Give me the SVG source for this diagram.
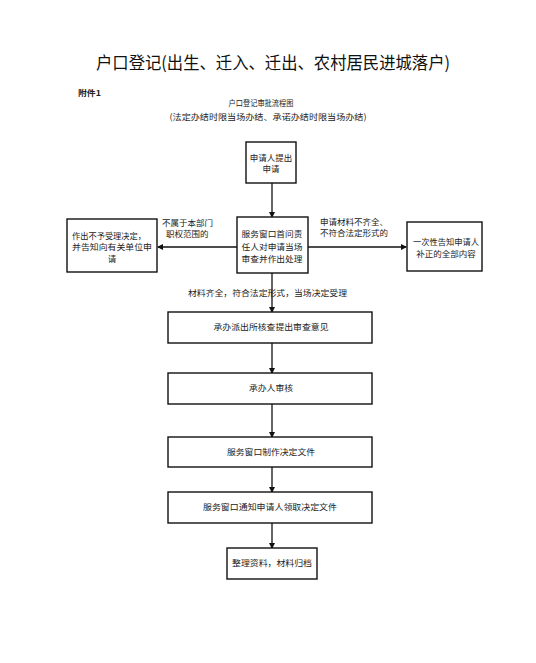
<svg xmlns="http://www.w3.org/2000/svg" width="536" height="663" viewBox="0 0 536 663">
<defs>
<marker id="ah" markerWidth="6" markerHeight="6" refX="5" refY="3" orient="auto" markerUnits="userSpaceOnUse">
<path d="M0,0 L6,3 L0,6 Z" fill="#111"/>
</marker>
<style>
text{font-family:"Noto Sans CJK SC","Noto Sans CJK TC",sans-serif;fill:#222;}
.t{font-size:8.5px;}
.c{text-anchor:middle;}
.box{fill:#fff;stroke:#111;stroke-width:1.4;}
.ln{stroke:#111;stroke-width:1.3;fill:none;marker-end:url(#ah);}
</style>
</defs>
<rect width="536" height="663" fill="#fff"/>
<text x="273" y="69" class="c" style="font-size:17px;fill:#111" textLength="354" lengthAdjust="spacingAndGlyphs">户口登记(出生、迁入、迁出、农村居民进城落户)</text>
<text x="78" y="96" style="font-size:8px;font-weight:bold" textLength="23" lengthAdjust="spacingAndGlyphs">附件1</text>
<text x="261" y="106" class="t c" textLength="65" lengthAdjust="spacingAndGlyphs">户口登记审批流程图</text>
<text x="268" y="120" class="t c" textLength="197" lengthAdjust="spacingAndGlyphs">(法定办结时限当场办结、承诺办结时限当场办结)</text>

<g id="connectors">
<line class="ln" x1="272" y1="183" x2="272" y2="217"/>
<line class="ln" x1="237" y1="247" x2="158" y2="247"/>
<line class="ln" x1="308" y1="247" x2="406" y2="247"/>
<line class="ln" x1="272" y1="273" x2="272" y2="312"/>
<line class="ln" x1="272" y1="343" x2="272" y2="373"/>
<line class="ln" x1="272" y1="404" x2="272" y2="437"/>
<line class="ln" x1="272" y1="467" x2="272" y2="492"/>
<line class="ln" x1="272" y1="523" x2="272" y2="548"/>
<text x="162" y="226" class="t">不属于本部门</text>
<text x="166" y="237" class="t">职权范围的</text>
<text x="320" y="225" class="t">申请材料不齐全、</text>
<text x="320" y="236" class="t">不符合法定形式的</text>
<text x="188" y="296" class="t" textLength="159" lengthAdjust="spacingAndGlyphs">材料齐全，符合法定形式，当场决定受理</text>
</g>

<g id="n-apply">
<rect class="box" x="246" y="142" width="50" height="41"/>
<text x="271" y="161" class="t c">申请人提出</text>
<text x="271" y="172" class="t c">申请</text>
</g>
<g id="n-review">
<rect class="box" x="237" y="217" width="71" height="56"/>
<text x="272" y="237" class="t c" textLength="61" lengthAdjust="spacingAndGlyphs">服务窗口首问责</text>
<text x="272" y="250" class="t c" textLength="61" lengthAdjust="spacingAndGlyphs">任人对申请当场</text>
<text x="272" y="262" class="t c" textLength="61" lengthAdjust="spacingAndGlyphs">审查并作出处理</text>
</g>
<g id="n-reject">
<rect class="box" x="67" y="219" width="90" height="53"/>
<text x="72" y="239" class="t" textLength="74" lengthAdjust="spacingAndGlyphs">作出不予受理决定，</text>
<text x="72" y="250" class="t" textLength="80" lengthAdjust="spacingAndGlyphs">并告知向有关单位申</text>
<text x="112" y="262" class="t c">请</text>
</g>
<g id="n-notify-missing">
<rect class="box" x="407" y="222" width="75" height="49"/>
<text x="446" y="245" class="t c" textLength="66" lengthAdjust="spacingAndGlyphs">一次性告知申请人</text>
<text x="446" y="257" class="t c">补正的全部内容</text>
</g>
<g id="n-police">
<rect class="box" x="168" y="312" width="204" height="31"/>
<text x="271" y="330" class="t c" textLength="115" lengthAdjust="spacingAndGlyphs">承办派出所核查提出审查意见</text>
</g>
<g id="n-handler">
<rect class="box" x="168" y="373" width="204" height="31"/>
<text x="271" y="391" class="t c" textLength="44" lengthAdjust="spacingAndGlyphs">承办人审核</text>
</g>
<g id="n-make">
<rect class="box" x="168" y="437" width="204" height="30"/>
<text x="271" y="455" class="t c" textLength="88" lengthAdjust="spacingAndGlyphs">服务窗口制作决定文件</text>
</g>
<g id="n-notify">
<rect class="box" x="168" y="492" width="204" height="31"/>
<text x="270" y="510" class="t c" textLength="134" lengthAdjust="spacingAndGlyphs">服务窗口通知申请人领取决定文件</text>
</g>
<g id="n-archive">
<rect class="box" x="227" y="548" width="90" height="31"/>
<text x="272" y="566" class="t c" textLength="80" lengthAdjust="spacingAndGlyphs">整理资料，材料归档</text>
</g>
</svg>
